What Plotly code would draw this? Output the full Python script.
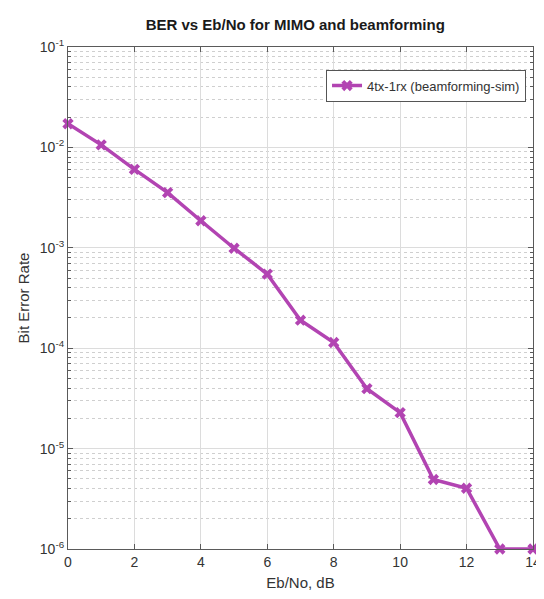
import plotly.graph_objects as go

ebno = [0, 1, 2, 3, 4, 5, 6, 7, 8, 9, 10, 11, 12, 13, 14]
ber = [0.0172, 0.0106, 0.00605, 0.00355, 0.00186, 0.00099, 0.000547,
       1.9e-4, 1.14e-4, 3.95e-5, 2.28e-5, 4.92e-6, 4.03e-6, 1e-6, 1e-6]
series_name = "4tx-1rx (beamforming-sim)"
x_ticks = [0, 2, 4, 6, 8, 10, 12, 14]
y_ticks = [1e-6, 1e-5, 1e-4, 1e-3, 1e-2, 1e-1]
y_ticktext = ["10<sup>-6</sup>", "10<sup>-5</sup>", "10<sup>-4</sup>",
              "10<sup>-3</sup>", "10<sup>-2</sup>", "10<sup>-1</sup>"]
y_minor = [k * d for d in [1e-6, 1e-5, 1e-4, 1e-3, 1e-2] for k in range(2, 10)]

color = "#B244B2"
fig = go.Figure()
fig.add_trace(go.Scatter(
    x=ebno, y=ber, mode="lines+markers", name=series_name,
    line=dict(color=color, width=3.5),
    marker=dict(symbol="x", size=10, color=color),
    cliponaxis=False,
))

axis_common = dict(
    showline=True, linecolor="#5a5a5a", linewidth=1.2, mirror="ticks",
    ticks="inside", ticklen=5, tickcolor="#5a5a5a",
    gridcolor="#dcdcdc", gridwidth=1, zeroline=False,
    tickfont=dict(family="Liberation Sans, Arial", size=14, color="#333333"),
)

fig.update_layout(
    width=544, height=599,
    paper_bgcolor="white", plot_bgcolor="white",
    margin=dict(l=60, r=11, t=39, b=58),
    title=dict(text="<b>BER vs Eb/No for MIMO and beamforming</b>",
               x=0.528, xref="container", xanchor="center",
               y=0.972, yref="container", yanchor="middle",
               font=dict(family="Liberation Sans, Arial", size=15, color="#1a1a1a")),
    xaxis=dict(range=[0, 14], tickvals=x_ticks,
               title=dict(text="Eb/No, dB", standoff=8,
                          font=dict(family="Liberation Sans, Arial", size=15, color="#333333")),
               **axis_common),
    yaxis=dict(type="log", range=[-6, -1], tickvals=y_ticks, ticktext=y_ticktext,
               title=dict(text="Bit Error Rate", standoff=6,
                          font=dict(family="Liberation Sans, Arial", size=15, color="#333333")),
               minor=dict(tickvals=y_minor, showgrid=True, griddash="dot",
                          gridcolor="#cfcfcf", gridwidth=1,
                          ticks="inside", ticklen=3, tickcolor="#5a5a5a"),
               **axis_common),
    showlegend=True,
    legend=dict(x=0.985, y=0.955, xanchor="right", yanchor="top",
                bgcolor="white", bordercolor="#555555", borderwidth=1,
                font=dict(family="Liberation Sans, Arial", size=13, color="#333333")),
)

fig.write_html("out.html")
